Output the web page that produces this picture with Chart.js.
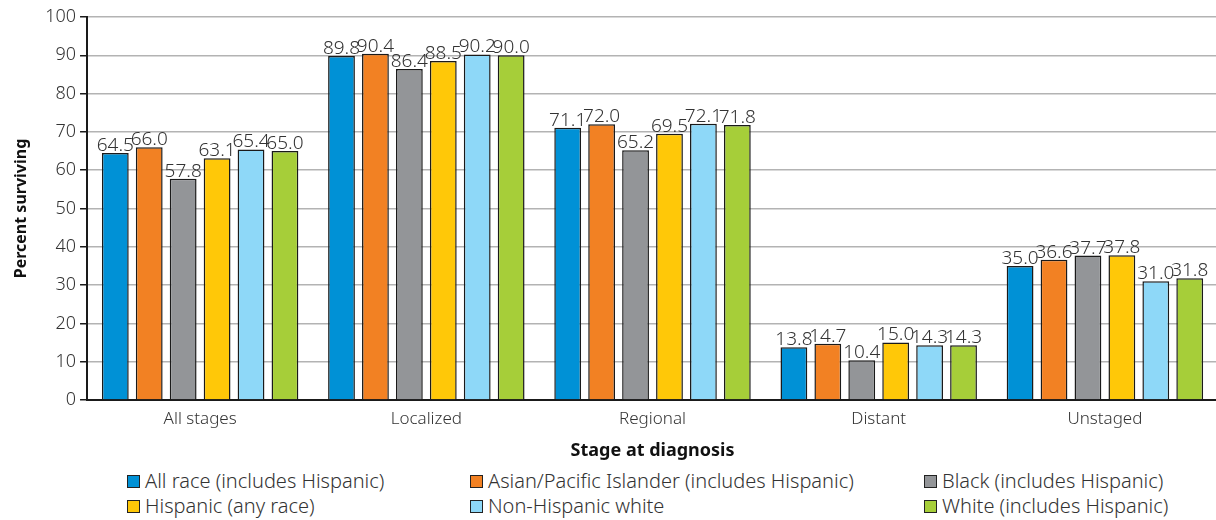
<!DOCTYPE html>
<html>
<head>
<meta charset="utf-8">
<script src="https://cdn.jsdelivr.net/npm/chart.js@4/dist/chart.umd.min.js"></script>
<style>
  body { margin: 0; background: #fff; font-family: "Noto Sans", sans-serif; overflow: hidden; }
  #wrap { position: relative; width: 1222px; height: 466px; }
  #legend { display: grid; grid-template-columns: 343px 454px 300px; margin: 2px 0 0 127px; width: 1089px; }
  #legend div { font-size: 20px; color: #333; line-height: 25px; white-space: nowrap; font-weight: 300; }
  #legend span { display: inline-block; width: 11px; height: 11px; border: 1.5px solid #222; margin-right: 5px; vertical-align: 0px; }
</style>
</head>
<body>
<div id="wrap"><canvas id="myChart"></canvas></div>
<div id="legend"></div>
<script>
var stages = ["All stages", "Localized", "Regional", "Distant", "Unstaged"];
var groups = [
  "All race (includes Hispanic)",
  "Asian/Pacific Islander (includes Hispanic)",
  "Black (includes Hispanic)",
  "Hispanic (any race)",
  "Non-Hispanic white",
  "White (includes Hispanic)"
];
var allRace = [64.5, 89.8, 71.1, 13.8, 35.0];
var asianPI = [66.0, 90.4, 72.0, 14.7, 36.6];
var black = [57.8, 86.4, 65.2, 10.4, 37.7];
var hispanic = [63.1, 88.5, 69.5, 15.0, 37.8];
var nonHispWhite = [65.4, 90.2, 72.1, 14.3, 31.0];
var white = [65.0, 90.0, 71.8, 14.3, 31.8];
var colors = ["#0091d6", "#f28123", "#939598", "#ffc808", "#8ed8f8", "#a6ce39"];

var series = [allRace, asianPI, black, hispanic, nonHispWhite, white];
var datasets = series.map(function (vals, i) {
  return {
    label: groups[i],
    data: vals,
    backgroundColor: colors[i],
    borderColor: "#1a1a1a",
    borderWidth: 1.5,
    categoryPercentage: 0.9,
    barPercentage: 0.79
  };
});

// value labels above each bar
var barValues = {
  id: "barValues",
  afterDatasetsDraw: function (chart) {
    var ctx = chart.ctx;
    ctx.save();
    ctx.font = "300 19px 'Noto Sans'";
    ctx.fillStyle = "#333";
    ctx.textAlign = "center";
    ctx.textBaseline = "bottom";
    chart.data.datasets.forEach(function (ds, i) {
      chart.getDatasetMeta(i).data.forEach(function (bar, j) {
        ctx.fillText(ds.data[j].toFixed(1), bar.x, bar.y + 2);
      });
    });
    ctx.restore();
  }
};

var ctx = document.getElementById("myChart");
var myChart = new Chart(ctx, {
  type: "bar",
  data: { labels: stages, datasets: datasets },
  plugins: [barValues],
  options: {
    responsive: true,
    maintainAspectRatio: false,
    animation: false,
    layout: { padding: { top: 17, right: 4, left: 8, bottom: 0 } },
    plugins: { legend: { display: false }, tooltip: { enabled: false } },
    scales: {
      x: {
        grid: { display: false },
        border: { color: "#1a1a1a", width: 2 },
        ticks: { color: "#333", font: { family: "Noto Sans", size: 17, weight: 300 }, padding: 1 },
        title: { display: true, text: "Stage at diagnosis", color: "#111", font: { family: "Noto Sans", size: 18, weight: "bold" }, padding: { top: 10 } }
      },
      y: {
        min: 0,
        max: 100,
        ticks: { stepSize: 10, color: "#333", font: { family: "Noto Sans", size: 18, weight: 300 }, padding: 4 },
        grid: { color: "#b3b3b3", lineWidth: 1.5, tickLength: 7, tickColor: "#1a1a1a" },
        border: { color: "#1a1a1a", width: 2 },
        title: { display: true, text: "Percent surviving", color: "#111", font: { family: "Noto Sans", size: 16, weight: "bold" }, padding: { bottom: 10 } }
      }
    }
  }
});

var legend = document.getElementById("legend");
groups.forEach(function (name, i) {
  var d = document.createElement("div");
  d.innerHTML = '<span style="background:' + colors[i] + '"></span>' + name;
  legend.appendChild(d);
});
</script>
</body>
</html>
